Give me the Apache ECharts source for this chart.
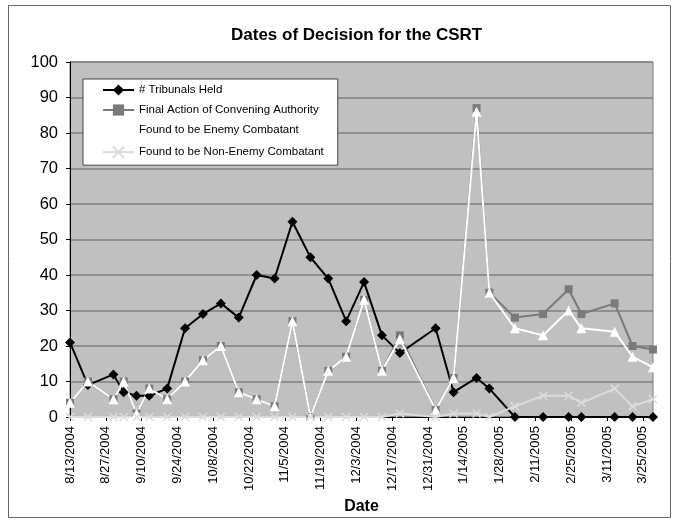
<!DOCTYPE html>
<html>
<head>
<meta charset="utf-8">
<script src="https://cdn.jsdelivr.net/npm/echarts@6/dist/echarts.min.js"></script>
<style>
  html, body { margin: 0; padding: 0; background: #fff; }
  #chart { width: 673px; height: 520px; }
</style>
</head>
<body>
<div id="chart"></div>
<script>
// decision dates
var dates = [
  '2004-08-13', '2004-08-20', '2004-08-30', '2004-09-03', '2004-09-08', '2004-09-13',
  '2004-09-20', '2004-09-27', '2004-10-04', '2004-10-11', '2004-10-18', '2004-10-25',
  '2004-11-01', '2004-11-08', '2004-11-15', '2004-11-22', '2004-11-29', '2004-12-06',
  '2004-12-13', '2004-12-20', '2005-01-03', '2005-01-10', '2005-01-19', '2005-01-24',
  '2005-02-03', '2005-02-14', '2005-02-24', '2005-03-01', '2005-03-14', '2005-03-21',
  '2005-03-29'
]
var tribunalsHeld = [21, 9, 12, 7, 6, 6, 8, 25, 29, 32, 28, 40, 39, 55, 45, 39, 27, 38, 23, 18, 25, 7, 11, 8, 0, 0, 0, 0, 0, 0, 0]
var finalAction = [4, 10, 5, 10, 1, 8, 5, 10, 16, 20, 7, 5, 3, 27, 0, 13, 17, 33, 13, 23, 2, 11, 87, 35, 28, 29, 36, 29, 32, 20, 19]
var enemyCombatant = [4, 10, 5, 10, 1, 8, 5, 10, 16, 20, 7, 5, 3, 27, 0, 13, 17, 33, 13, 22, 2, 11, 86, 35, 25, 23, 30, 25, 24, 17, 14]
var nonEnemyCombatant = [0, 0, 0, 0, 0, 0, 0, 0, 0, 0, 0, 0, 0, 0, 0, 0, 0, 0, 0, 1, 0, 1, 1, 0, 3, 6, 6, 4, 8, 3, 5]
var seriesNames = ['# Tribunals Held', 'Final Action of Convening Authority', 'Found to be Enemy Combatant', 'Found to be Non-Enemy Combatant']

var axisStart = '2004-08-13'
var axisEnd = '2005-03-29'
var tickDays = 14

function dayOf(s) {
  var p = s.split('-')
  var b = axisStart.split('-')
  return Math.round((Date.UTC(+p[0], p[1] - 1, +p[2]) - Date.UTC(+b[0], b[1] - 1, +b[2])) / 86400000)
}
function labelOf(d) {
  var b = axisStart.split('-')
  var t = new Date(Date.UTC(+b[0], b[1] - 1, +b[2]) + d * 86400000)
  return (t.getUTCMonth() + 1) + '/' + t.getUTCDate() + '/' + t.getUTCFullYear()
}
function pairs(vals) {
  return dates.map(function (d, i) { return [dayOf(d), vals[i]] })
}

var font = 'Liberation Sans, Arial, sans-serif'
var xMark = 'path://M0,0L10,10M10,0L0,10'

var myChart = echarts.init(document.getElementById('chart'))
myChart.setOption({
  backgroundColor: '#fff',
  animation: false,
  title: {
    text: 'Dates of Decision for the CSRT',
    left: 226,
    top: 22,
    textStyle: { fontFamily: font, fontSize: 17, fontWeight: 'bold', color: '#000' }
  },
  graphic: [{
    type: 'rect',
    shape: { x: 8.5, y: 5.5, width: 662, height: 512 },
    style: { fill: 'none', stroke: '#666', lineWidth: 1 },
    z: -1
  }],
  legend: {
    orient: 'vertical',
    left: 83,
    top: 79,
    padding: [5, 14, 5, 19],
    itemGap: 8,
    itemWidth: 31,
    itemHeight: 14,
    backgroundColor: '#fff',
    borderColor: '#444',
    borderWidth: 1,
    borderRadius: 0,
    textStyle: { fontFamily: font, fontSize: 11.5, color: '#000' },
    data: seriesNames
  },
  grid: {
    left: 70,
    right: 20,
    top: 62,
    bottom: 103,
    show: true,
    backgroundColor: '#c0c0c0',
    borderColor: '#808080',
    borderWidth: 1
  },
  xAxis: {
    type: 'value',
    min: 0,
    max: dayOf(axisEnd),
    interval: tickDays,
    name: 'Date',
    nameLocation: 'middle',
    nameGap: 82,
    nameTextStyle: { fontFamily: font, fontSize: 16, fontWeight: 'bold', color: '#000' },
    axisLine: { onZero: false, lineStyle: { color: '#000', width: 1 } },
    axisTick: { show: true, length: 4, lineStyle: { color: '#000' } },
    splitLine: { show: false },
    axisLabel: {
      rotate: 90,
      fontFamily: font,
      fontSize: 13,
      color: '#000',
      margin: 9,
      showMaxLabel: false,
      formatter: function (v) { return labelOf(v) }
    }
  },
  yAxis: {
    type: 'value',
    min: 0,
    max: 100,
    interval: 10,
    axisLine: { show: true, lineStyle: { color: '#000', width: 1 } },
    axisTick: { show: true, length: 4, lineStyle: { color: '#000' } },
    splitLine: { lineStyle: { color: '#7f7f7f', width: 1.5 } },
    axisLabel: { fontFamily: font, fontSize: 16.5, color: '#000', margin: 12 }
  },
  series: [
    {
      name: seriesNames[0],
      type: 'line',
      data: pairs(tribunalsHeld),
      symbol: 'diamond',
      symbolSize: 10,
      lineStyle: { color: '#000', width: 2 },
      itemStyle: { color: '#000' }
    },
    {
      name: seriesNames[1],
      type: 'line',
      data: pairs(finalAction),
      symbol: 'rect',
      symbolSize: 8,
      lineStyle: { color: '#7a7a7a', width: 2 },
      itemStyle: { color: '#7a7a7a' }
    },
    {
      name: seriesNames[2],
      type: 'line',
      data: pairs(enemyCombatant),
      symbol: 'triangle',
      symbolSize: 10,
      lineStyle: { color: '#fff', width: 2 },
      itemStyle: { color: '#fff' }
    },
    {
      name: seriesNames[3],
      type: 'line',
      data: pairs(nonEnemyCombatant),
      symbol: xMark,
      symbolSize: 8,
      lineStyle: { color: '#dcdcdc', width: 2 },
      itemStyle: { color: 'none', borderColor: '#dcdcdc', borderWidth: 1.5 }
    }
  ]
})
</script>
</body>
</html>
